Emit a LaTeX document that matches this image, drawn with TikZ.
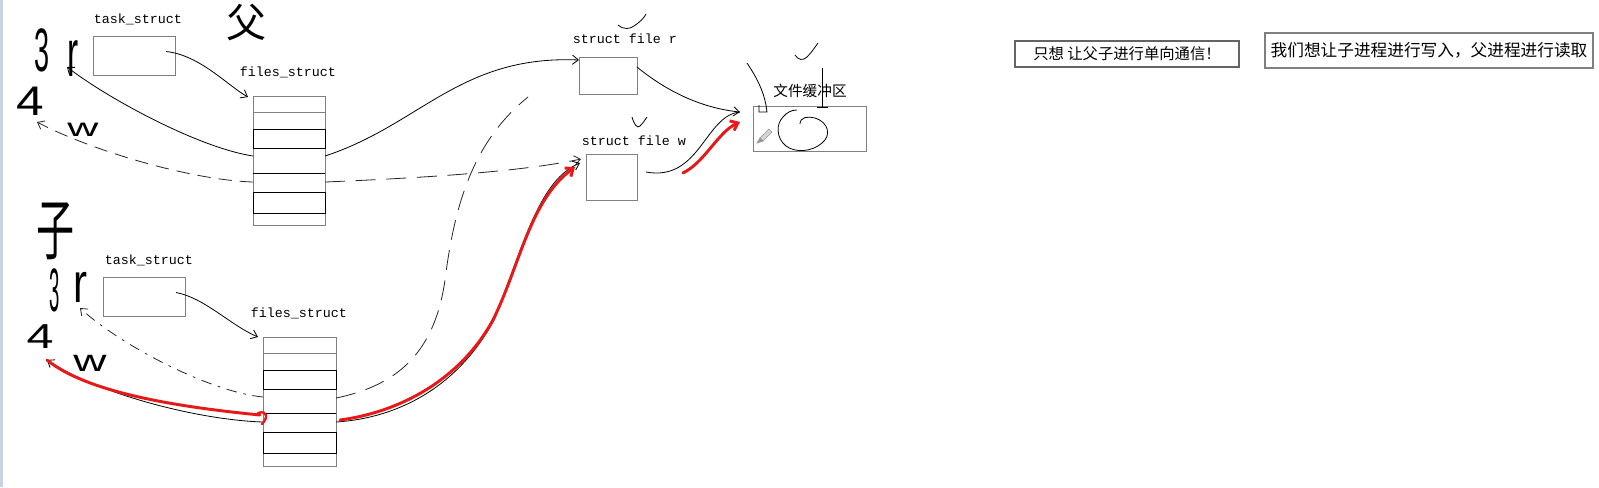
\documentclass[tikz,border=0pt]{standalone}
\usepackage{graphicx}
\usepackage{fontspec}
\setmainfont{Liberation Serif}
\setmonofont{Liberation Mono}
\newfontfamily\cjk{Noto Sans CJK SC}
\newfontfamily\handfont{Liberation Sans}
\usetikzlibrary{arrows.meta,calc}
\definecolor{boxgray}{RGB}{128,128,128}
\definecolor{notegray}{RGB}{100,100,100}
\definecolor{penred}{RGB}{232,24,24}
\definecolor{edgeblue}{RGB}{200,210,228}
\definecolor{pencilgray}{RGB}{150,150,150}
\begin{document}
\begin{tikzpicture}[x=0.75pt,y=-0.75pt,
  box/.style={draw=boxgray,line width=0.75pt,inner sep=0pt,outer sep=0pt,anchor=north west},
  lbl/.style={font=\ttfamily\fontsize{10pt}{12pt}\selectfont,inner sep=0pt},
  cjklbl/.style={font=\cjk\fontsize{11pt}{13pt}\selectfont,inner sep=0pt},
  pen/.style={line width=0.6pt,black},
  penarrow/.style={pen,-{Straight Barb[length=4.5pt,width=7pt]}},
  dashpen/.style={line width=0.6pt,black!85,dash pattern=on 10pt off 6pt},
  dashlong/.style={line width=0.6pt,black!85,dash pattern=on 15pt off 8pt},
  dashdotpen/.style={line width=0.6pt,black!85,dash pattern=on 8pt off 5pt on 2pt off 5pt},
  tipped/.style={-{Straight Barb[length=4.5pt,width=7pt]}},
  redpen/.style={line width=2.2pt,penred,line cap=round},
  redarrow/.style={redpen,-{Straight Barb[length=5pt,width=8pt]}},
  rowline/.style={draw=boxgray,line width=0.75pt},
  slot/.style={draw=black,line width=0.7pt},
  note/.style={draw=notegray,line width=0.9pt,inner sep=0pt,font=\cjk\fontsize{11.5pt}{13pt}\selectfont},
  notebig/.style={draw=boxgray,line width=1pt,inner sep=0pt,font=\cjk\fontsize{12.5pt}{14pt}\selectfont},
  hand/.style={inner sep=0pt,font=\handfont},
  handcjk/.style={inner sep=0pt,font=\cjk}
]
\fill[white] (0,0) rectangle (1599,487);
\useasboundingbox (0,0) rectangle (1599,487);
\fill[edgeblue] (0,0) rectangle (2.5,487);

% ---------- boxes ----------
\node[box,minimum width=61.5pt,minimum height=29.25pt] (ts1) at (93,36) {};
\node[box,minimum width=54pt,minimum height=96.75pt] (fs1) at (253,96) {};
\node[box,minimum width=43.5pt,minimum height=27.75pt] (fr) at (579,57) {};
\node[box,minimum width=38.25pt,minimum height=34.5pt] (fw) at (586,154) {};
\node[box,minimum width=84.75pt,minimum height=33.75pt] (buf) at (753,106) {};
\node[box,minimum width=61.5pt,minimum height=29.25pt] (ts2) at (103,277) {};
\node[box,minimum width=54.75pt,minimum height=96.75pt] (fs2) at (263,337) {};

% rows of files_struct (parent)
\foreach \yy in {112,148,192} \draw[rowline] (fs1.west |- 0,\yy) -- (fs1.east |- 0,\yy);
\draw[slot] (fs1.west |- 0,129) rectangle (fs1.east |- 0,148);
\draw[slot] (fs1.west |- 0,173) -- (fs1.east |- 0,173);
\draw[slot] (fs1.west |- 0,192) rectangle (fs1.east |- 0,213);
% rows of files_struct (child)
\foreach \yy in {353,389,432} \draw[rowline] (fs2.west |- 0,\yy) -- (fs2.east |- 0,\yy);
\draw[slot] (fs2.west |- 0,370) rectangle (fs2.east |- 0,389);
\draw[slot] (fs2.west |- 0,413) -- (fs2.east |- 0,413);
\draw[slot] (fs2.west |- 0,432) rectangle (fs2.east |- 0,453);

% ---------- labels ----------
\node[lbl] (lts1) at (138,19) {task\_struct};
\node[lbl] (lfs1) at (288,72) {files\_struct};
\node[lbl] (lfr) at (625,39) {struct file r};
\node[lbl] (lfw) at (634,141) {struct file w};
\node[cjklbl] (lbuf) at (810,91) {文件缓冲区};
\node[lbl] (lts2) at (149,260) {task\_struct};
\node[lbl] (lfs2) at (299,313) {files\_struct};

\node[note,minimum width=168pt,minimum height=19.5pt] (n1) at (1127,54) {只想 让父子进行单向通信！};
\node[notebig,minimum width=246pt,minimum height=26.25pt] (n2) at (1429,50.5) {我们想让子进程进行写入，父进程进行读取};

% ---------- handwritten labels ----------
\node[handcjk] (hfu) at (246,22) {\fontsize{30pt}{30pt}\selectfont 父};
\node[handcjk] (hzi) at (56,231) {\fontsize{50pt}{50pt}\selectfont\scalebox{0.57}[1]{子}};
\node[hand] (h3a) at (42,50) {\fontsize{46pt}{46pt}\selectfont\scalebox{0.44}[1]{3}};
\node[hand] (hra) at (73,59) {\fontsize{50pt}{50pt}\selectfont\scalebox{0.5}[1]{r}};
\node[hand] (h4a) at (30,101) {\fontsize{31pt}{31pt}\selectfont\scalebox{1.2}[1]{4}};
\node[hand] (hwa) at (83,130) {\fontsize{19pt}{19pt}\selectfont\scalebox{1.7}[1]{w}};
\node[hand] (h3b) at (55,290) {\fontsize{46pt}{46pt}\selectfont\scalebox{0.3}[1]{3}};
\node[hand] (hrb) at (80,287) {\fontsize{42pt}{42pt}\selectfont\scalebox{0.75}[1]{r}};
\node[hand] (h4b) at (40,337) {\fontsize{26pt}{26pt}\selectfont\scalebox{1.4}[1]{4}};
\node[hand] (hwb) at (90,363) {\fontsize{23pt}{23pt}\selectfont\scalebox{1.5}[1]{w}};

% ---------- connector end points ----------
\coordinate (tipr1) at (67,67);
\coordinate (tipw1) at (37,122);
\coordinate (tipr2) at (80,308);
\coordinate (tipw2) at (47,360);
\coordinate (frin) at (fr.west |- 0,60);
\coordinate (fwin) at ($(fw.west)+(-5,-18)$);
\coordinate (fwin2) at ($(fw.west)+(-6,-14)$);
\coordinate (fwred) at ($(fw.west)+(-11,-10)$);
\coordinate (bufin) at ($(buf.north west)+(-13,6)$);
\coordinate (dashend) at (528,97);

% ---------- parent connectors ----------
\draw[penarrow] ($(ts1.east)+(-9,-4)$) .. controls (200,55) and (228,86) .. ($(fs1.north west)+(-5,1)$);
\draw[penarrow] (fs1.west |- 0,156) .. controls (200,148) and (110,100) .. (tipr1);
\draw[penarrow] (fs1.east |- 0,156) .. controls (420,125) and (460,55) .. (frin);
\draw[dashpen,tipped] (fs1.west |- 0,182) .. controls (190,180) and (90,150) .. (tipw1);
\draw[dashlong,tipped] (fs1.east |- 0,182) .. controls (420,178) and (520,172) .. (fwin);
\draw[penarrow] (fr.east |- 0,67) .. controls (665,90) and (700,108) .. (bufin);
\draw[pen] ($(fw.east)+(9,-5)$) .. controls (700,182) and (705,115) .. (bufin);
\draw[redarrow] ($(fw.east)+(46,-4)$) .. controls (705,162) and (718,132) .. ($(bufin)+(0,10)$);

% ---------- child connectors ----------
\draw[penarrow] ($(ts2.east)+(-9,-4)$) .. controls (205,298) and (230,325) .. ($(fs2.north west)+(-5,0)$);
\draw[dashdotpen,tipped] (fs2.west |- 0,397) .. controls (210,392) and (120,345) .. (tipr2);
\draw[dashlong] (fs2.east |- 0,398) .. controls (400,385) and (435,350) .. (445,280) .. controls (455,200) and (475,140) .. (dashend);
\draw[penarrow] (fs2.west |- 0,422) .. controls (200,420) and (100,395) .. (tipw2);
\draw[redpen] ($(fs2.west |- 0,415)+(-3,0)$) .. controls (190,408) and (90,395) .. (tipw2);
\draw[redpen,line width=1.8pt] (258,413) .. controls (268,410) and (268,418) .. (262,424);
\draw[penarrow] (fs2.east |- 0,422) .. controls (400,418) and (460,385) .. (495,318) .. controls (525,240) and (540,180) .. (fwin2);
\draw[redarrow] ($(fs2.east |- 0,420)+(4,0)$) .. controls (400,412) and (460,380) .. (493,320) .. controls (520,265) and (530,200) .. (fwred);

% ---------- handwritten marks ----------
\draw[pen] (618,25) .. controls (624,30) and (630,29) .. (634,26) .. controls (640,22) and (644,18) .. (646,14);
\draw[pen] (795,55) .. controls (798,60) and (803,61) .. (807,57) .. controls (812,52) and (815,47) .. (818,43);
\draw[pen] (632,117) .. controls (634,124) and (637,129) .. (640,126) .. controls (643,123) and (645,120) .. (647,117);
\draw[pen] (747,63) .. controls (757,78) and (763,90) .. (766,105) -- (767,112) -- (759,112) -- (759,105);
\draw[pen] (822,68) -- (822,107);
\draw[pen] (817,107) -- (828,107);
\draw[pen] (800,124) .. controls (800,117) and (808,116) .. (815,118) .. controls (828,122) and (832,135) .. (822,143) .. controls (812,152) and (795,153) .. (786,146) .. controls (776,138) and (776,124) .. (783,117) .. controls (787,112) and (792,110) .. (797,110);
\filldraw[draw=pencilgray,fill=pencilgray!40,line width=0.5pt] (772,132) -- (769,129) -- (760,138) -- (763,141) -- cycle;
\filldraw[draw=pencilgray,fill=pencilgray,line width=0.5pt] (760,138) -- (757,143) -- (763,141) -- cycle;
\end{tikzpicture}
\end{document}
